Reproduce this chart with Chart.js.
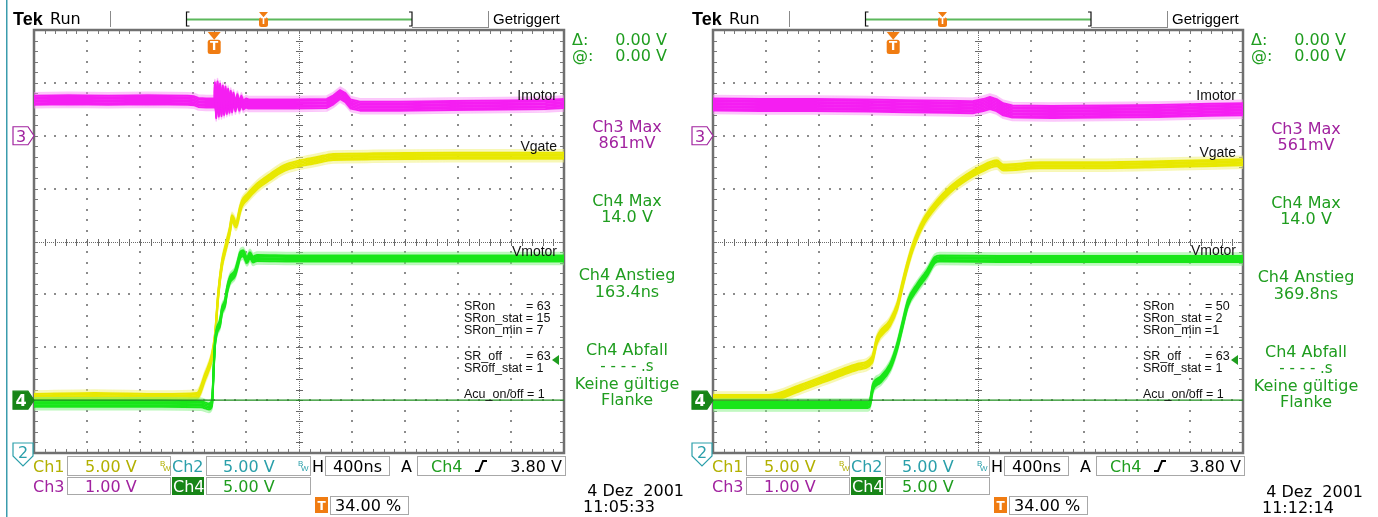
<!DOCTYPE html>
<html>
<head>
<meta charset="utf-8">
<title>Tek scope captures</title>
<script src="https://cdn.jsdelivr.net/npm/chart.js@4.4.1/dist/chart.umd.min.js"></script>
<style>
  html, body { margin: 0; padding: 0; background: #fff; }
  body { width: 1378px; height: 517px; position: relative; overflow: hidden; }
  canvas { position: absolute; top: 0; }
  #scopeLeft { left: 0; }
  #scopeRight { left: 679px; }
</style>
</head>
<body>
<canvas id="scopeLeft" width="699" height="517"></canvas>
<canvas id="scopeRight" width="699" height="517"></canvas>
<script>
// horizontal: 400 ns/div, 10 div, trigger at 34 % of the record
const timeMin = -1360;
const timeMax = 2640;
const trigTime = 0;
const trigPercent = 34;
const trigLevel = 3.8;          // Ch4, volts
const refT = [-1360, 2640];     // Ch4 ground reference line
const refV = [0, 0];

// channel settings shown in the bottom row
const chScales = ['5.00 V', '5.00 V', '1.00 V', '5.00 V'];
const horizScale = '400ns';
const trigText = ['Ch4', '3.80 V'];
const posText = '34.00 %';

// left capture, 11:05:33 (times in ns, Imotor in V on Ch3, the others in V on Ch1/Ch4)
const leftImotorT = [-1360, -1100, -800, -500, -200, -150, -120, -60, 0, 5, 15, 25, 35, 45, 55, 65, 75, 85, 95,
  105, 115, 125, 135, 145, 160, 175, 190, 205, 220, 240, 260, 400, 600, 850, 900, 950, 990, 1030, 1100,
  1400, 1800, 2200, 2500, 2640];
const leftImotorV = [0.67, 0.68, 0.67, 0.68, 0.67, 0.66, 0.63, 0.62, 0.62, 0.92, 0.42, 0.94, 0.45, 0.90, 0.46, 0.86, 0.48, 0.84, 0.50,
  0.80, 0.52, 0.76, 0.53, 0.73, 0.55, 0.70, 0.56, 0.67, 0.58, 0.62, 0.60, 0.60, 0.60, 0.61, 0.68, 0.78, 0.72, 0.60, 0.56,
  0.56, 0.57, 0.58, 0.59, 0.61];
const leftVgateT = [-1360, -900, -400, -130, -69, -17, 6, 29, 59, 82, 119, 134, 165, 195, 210, 248, 323, 421, 519, 648, 776, 897, 1200, 1800, 2640];
const leftVgateV = [0.3, 0.4, 0.3, 0.4, 2.2, 4.1, 6.0, 9.75, 12.9, 14.2, 16.1, 17.2, 16.6, 18.0, 18.6, 19.2, 20.2, 21.1, 21.9, 22.4, 22.7, 23.0, 23.05, 23.1, 23.1];
const leftVmotorT = [-1360, -900, -400, -100, -40, -17, -2, 6, 21, 44, 59, 82, 97, 119, 157, 180, 195, 217, 248, 270, 293, 323, 600, 1500, 2640];
const leftVmotorV = [-0.35, -0.35, -0.35, -0.4, -0.6, -0.3, 3.5, 5.4, 6.6, 7.3, 8.5, 9.2, 10.4, 11.4, 12.0, 13.0, 13.7, 13.9, 13.25, 13.7, 13.3, 13.45, 13.4, 13.4, 13.4];

// right capture, 11:12:14
const rightImotorT = [-1360, -1000, -600, -200, 100, 400, 600, 680, 730, 780, 830, 900, 1200, 1600, 2000, 2400, 2640];
const rightImotorV = [0.59, 0.58, 0.58, 0.57, 0.56, 0.55, 0.54, 0.58, 0.62, 0.58, 0.50, 0.46, 0.45, 0.46, 0.47, 0.49, 0.50];
const rightVgateT = [-1360, -937, -703, -401, -273, -160, -122, -24, 29, 66, 104, 149, 225, 330, 429, 557, 655, 783, 829, 1108, 1485, 2000, 2640];
const rightVgateV = [0.2, 0.2, 1.15, 2.57, 3.14, 3.8, 5.69, 7.3, 8.8, 10.7, 12.6, 14.5, 16.75, 18.6, 19.9, 21.1, 21.8, 22.4, 22.0, 22.2, 22.2, 22.3, 22.5];
const rightVmotorT = [-1360, -800, -400, -190, -175, -152, -100, -24, 29, 66, 112, 180, 255, 315, 353, 800, 1600, 2640];
const rightVmotorV = [-0.45, -0.45, -0.45, -0.45, -0.26, 1.25, 1.9, 3.14, 5.03, 6.9, 9.2, 10.7, 12.0, 13.25, 13.4, 13.35, 13.35, 13.35];

// measurement readouts
const leftReadouts = ['861mV', '14.0 V', '163.4ns'];
const rightReadouts = ['561mV', '14.0 V', '369.8ns'];
const leftSR = [['SRon', '= 63'], ['SRon_stat = 15'], ['SRon_min = 7'], ['SR_off', '= 63'], ['SRoff_stat = 1'], ['Acu_on/off = 1']];
const rightSR = [['SRon', '= 50'], ['SRon_stat = 2'], ['SRon_min =1'], ['SR_off', '= 63'], ['SRoff_stat = 1'], ['Acu_on/off = 1']];
const traceNames = ['Imotor', 'Vgate', 'Vmotor'];

const READ = '16px "DejaVu Sans"';
const SMALL = '12.5px "Liberation Sans", Arial';
const LABEL = '14px "Liberation Sans", Arial';
const GREEN_TXT = '#1f9d1f';
const PURPLE = '#a1229f';
const OLIVE = '#b2b000';
const TEAL = '#2a9faa';
const DKGREEN = '#178517';
const ORANGE = '#f07c12';

const panels = {
  scopeLeft: {
    readouts: leftReadouts, sr: leftSR, date: '4 Dez  2001', time: '11:05:33',
    labelY: [100, 151, 256], readDy: 0, edgeLine: true
  },
  scopeRight: {
    readouts: rightReadouts, sr: rightSR, date: '4 Dez  2001', time: '11:12:14',
    labelY: [100, 157, 255], readDy: 2, edgeLine: false
  }
};

function txt(ctx, s, x, y, font, color, align) {
  ctx.font = font;
  ctx.fillStyle = color;
  ctx.textAlign = align || 'left';
  ctx.textBaseline = 'alphabetic';
  ctx.fillText(s, x, y);
}

function drawGrid(ctx, a) {
  const dx = (a.right - a.left) / 10;
  const dy = (a.bottom - a.top) / 8;
  const X = Math.round(a.left + 5 * dx);
  const Y = Math.round(a.top + 4 * dy);
  ctx.save();
  ctx.fillStyle = '#8c8c8c';
  for (let i = 1; i < 10; i++) {
    if (i === 5) continue;
    const x = Math.round(a.left + i * dx);
    for (let j = 1; j < 40; j++) ctx.fillRect(x - 1, Math.round(a.top + j * dy / 5) - 1, 2, 2);
  }
  for (let k = 1; k < 8; k++) {
    if (k === 4) continue;
    const y = Math.round(a.top + k * dy);
    for (let j = 1; j < 50; j++) ctx.fillRect(Math.round(a.left + j * dx / 5) - 1, y - 1, 2, 2);
  }
  // centre cross
  ctx.fillStyle = '#6a6a6a';
  for (let y = a.top + 1; y < a.bottom; y += 2) ctx.fillRect(X, y, 1, 1);
  for (let x = a.left + 1; x < a.right; x += 2) ctx.fillRect(x, Y, 1, 1);
  for (let j = 1; j < 40; j++) ctx.fillRect(X - 3, Math.round(a.top + j * dy / 5), 7, 1);
  for (let j = 1; j < 50; j++) ctx.fillRect(Math.round(a.left + j * dx / 5), Y - 3, 1, 7);
  // border ticks
  ctx.fillStyle = '#7a7a7a';
  for (let j = 1; j < 50; j++) {
    const x = Math.round(a.left + j * dx / 5);
    ctx.fillRect(x, a.top, 1, 4);
    ctx.fillRect(x, a.bottom - 4, 1, 4);
  }
  for (let j = 1; j < 40; j++) {
    const y = Math.round(a.top + j * dy / 5);
    ctx.fillRect(a.left, y, 4, 1);
    ctx.fillRect(a.right - 4, y, 4, 1);
  }
  ctx.strokeStyle = '#707070';
  ctx.lineWidth = 2.5;
  ctx.strokeRect(a.left, a.top, a.right - a.left, a.bottom - a.top);
  ctx.restore();
}

function markerRight(ctx, tipX, y, num, color, filled) {
  ctx.beginPath();
  ctx.moveTo(tipX - 21, y - 9);
  ctx.lineTo(tipX - 6, y - 9);
  ctx.lineTo(tipX, y);
  ctx.lineTo(tipX - 6, y + 9);
  ctx.lineTo(tipX - 21, y + 9);
  ctx.closePath();
  ctx.fillStyle = filled ? color : '#fff';
  ctx.fill();
  ctx.strokeStyle = color;
  ctx.lineWidth = 1.2;
  ctx.stroke();
  txt(ctx, num, tipX - 13, y + 6, (filled ? 'bold ' : '') + READ, filled ? '#fff' : color, 'center');
}

function trigMarker(ctx, x, top, w, h, font) {
  ctx.fillStyle = ORANGE;
  ctx.beginPath();
  ctx.moveTo(x - w / 2, top);
  ctx.lineTo(x + w / 2, top);
  ctx.lineTo(x, top + h * 0.35);
  ctx.closePath();
  ctx.fill();
  ctx.beginPath();
  ctx.roundRect(x - w / 2, top + h * 0.35, w, h * 0.65, 2.5);
  ctx.fill();
  ctx.font = font;
  ctx.fillStyle = '#fff';
  ctx.textAlign = 'center';
  ctx.textBaseline = 'middle';
  ctx.fillText('T', x, top + h * 0.68);
}

function box(ctx, x0, x1, y, h) {
  ctx.strokeStyle = '#a8a8a8';
  ctx.lineWidth = 1;
  ctx.strokeRect(x0 + 0.5, y + 0.5, x1 - x0, h);
}

function bw(ctx, x, y, color) {
  txt(ctx, 'B', x, y - 4, '8px "Liberation Sans"', color);
  txt(ctx, 'W', x + 3, y + 1, '8px "Liberation Sans"', color);
}

const scopePlugin = {
  id: 'scope',
  beforeDatasetsDraw(chart) {
    drawGrid(chart.ctx, chart.chartArea);
  },
  // the noisy trace bands are stacks of thin copies shifted vertically
  beforeDatasetDraw(chart, args) {
    const shift = chart.data.datasets[args.index].yShift || 0;
    chart.ctx.save();
    chart.ctx.translate(0, shift);
  },
  afterDatasetDraw(chart) {
    chart.ctx.restore();
  },
  afterDatasetsDraw(chart) {
    const ctx = chart.ctx;
    const a = chart.chartArea;
    const p = panels[chart.canvas.id];
    const xs = chart.scales.x, ys = chart.scales.y, y3 = chart.scales.y3;
    ctx.save();
    traceNames.forEach((n, i) => txt(ctx, n, a.right - 7, p.labelY[i], LABEL, '#111', 'right'));
    const srY = [310, 322, 334, 360, 372, 398];
    p.sr.forEach((row, i) => {
      txt(ctx, row[0], a.left + 430, srY[i], SMALL, '#111');
      if (row[1]) txt(ctx, row[1], a.left + 492, srY[i], SMALL, '#111');
    });
    // trigger level arrow
    const ty = ys.getPixelForValue(trigLevel);
    ctx.fillStyle = GREEN_TXT;
    ctx.beginPath();
    ctx.moveTo(a.right - 12, ty);
    ctx.lineTo(a.right - 5, ty - 5);
    ctx.lineTo(a.right - 5, ty + 5);
    ctx.closePath();
    ctx.fill();
    // ground markers
    markerRight(ctx, a.left, y3.getPixelForValue(0), '3', PURPLE, false);
    markerRight(ctx, a.left, ys.getPixelForValue(0), '4', DKGREEN, true);
    trigMarker(ctx, xs.getPixelForValue(trigTime), a.top + 2, 13, 22, 'bold 12px "DejaVu Sans"');
    ctx.restore();
  },
  afterDraw(chart) {
    const ctx = chart.ctx;
    const a = chart.chartArea;
    const p = panels[chart.canvas.id];
    ctx.save();
    if (p.edgeLine) {
      ctx.fillStyle = '#3b9cad';
      ctx.fillRect(6, 0, 1.5, 517);
    }
    // ch2 marker, off screen below
    ctx.beginPath();
    ctx.moveTo(13, a.bottom - 10);
    ctx.lineTo(33, a.bottom - 10);
    ctx.lineTo(33, a.bottom + 3);
    ctx.lineTo(23, a.bottom + 13);
    ctx.lineTo(13, a.bottom + 3);
    ctx.closePath();
    ctx.fillStyle = '#fff';
    ctx.fill();
    ctx.strokeStyle = TEAL;
    ctx.lineWidth = 1.2;
    ctx.stroke();
    txt(ctx, '2', 23, a.bottom + 5, READ, TEAL, 'center');

    // top status bar
    txt(ctx, 'Tek', 13, 25, 'bold 18px "Liberation Sans"', '#000');
    txt(ctx, 'Run', 50, 24, READ, '#000');
    ctx.fillStyle = '#8a8a8a';
    ctx.fillRect(110, 11, 1, 16);
    ctx.fillRect(488, 11, 1, 17);
    ctx.fillRect(412, 27, 77, 1);
    ctx.fillStyle = '#5cb85c';
    ctx.fillRect(187, 18.5, 225, 2);
    ctx.strokeStyle = '#111';
    ctx.lineWidth = 1.2;
    ctx.beginPath();
    ctx.moveTo(189.5, 12); ctx.lineTo(186.5, 12); ctx.lineTo(186.5, 26); ctx.lineTo(189.5, 26);
    ctx.moveTo(409, 12); ctx.lineTo(412, 12); ctx.lineTo(412, 26); ctx.lineTo(409, 26);
    ctx.stroke();
    trigMarker(ctx, 187 + 225 * trigPercent / 100, 12, 9, 15, 'bold 8px "DejaVu Sans"');
    txt(ctx, 'Getriggert', 493, 24, '15px "Liberation Sans"', '#000');

    // right column readouts
    const cx = 627, d = p.readDy;
    txt(ctx, '\u0394:', 572, 45, READ, GREEN_TXT);
    txt(ctx, '0.00 V', 667, 45, READ, GREEN_TXT, 'right');
    txt(ctx, '@:', 572, 61, READ, GREEN_TXT);
    txt(ctx, '0.00 V', 667, 61, READ, GREEN_TXT, 'right');
    txt(ctx, 'Ch3 Max', cx, 132 + d, READ, PURPLE, 'center');
    txt(ctx, p.readouts[0], cx, 148 + d, READ, PURPLE, 'center');
    txt(ctx, 'Ch4 Max', cx, 206 + d, READ, GREEN_TXT, 'center');
    txt(ctx, p.readouts[1], cx, 222 + d, READ, GREEN_TXT, 'center');
    txt(ctx, 'Ch4 Anstieg', cx, 280 + d, READ, GREEN_TXT, 'center');
    txt(ctx, p.readouts[2], cx, 297 + d, READ, GREEN_TXT, 'center');
    txt(ctx, 'Ch4 Abfall', cx, 355 + d, READ, GREEN_TXT, 'center');
    txt(ctx, '- - - - .s', cx, 371 + d, '15px "DejaVu Sans"', GREEN_TXT, 'center');
    txt(ctx, 'Keine g\u00fcltige', cx, 389 + d, READ, GREEN_TXT, 'center');
    txt(ctx, 'Flanke', cx, 405 + d, READ, GREEN_TXT, 'center');

    // bottom settings rows
    box(ctx, 67, 170, 456, 19);
    box(ctx, 206, 310, 456, 19);
    box(ctx, 325, 389, 456, 19);
    box(ctx, 417, 565, 456, 19);
    box(ctx, 67, 170, 477, 17);
    box(ctx, 206, 310, 477, 17);
    box(ctx, 330, 408, 496, 18);
    txt(ctx, 'Ch1', 33, 472, READ, OLIVE);
    txt(ctx, chScales[0], 85, 472, READ, OLIVE);
    bw(ctx, 160, 470, OLIVE);
    txt(ctx, 'Ch2', 172, 472, READ, TEAL);
    txt(ctx, chScales[1], 223, 472, READ, TEAL);
    bw(ctx, 298, 470, TEAL);
    txt(ctx, 'H', 312, 472, READ, '#000');
    txt(ctx, horizScale, 333, 472, READ, '#000');
    txt(ctx, 'A', 401, 472, READ, '#000');
    txt(ctx, trigText[0], 431, 472, READ, GREEN_TXT);
    ctx.strokeStyle = '#000';
    ctx.lineWidth = 2;
    ctx.beginPath();
    ctx.moveTo(475, 471); ctx.lineTo(479, 471); ctx.lineTo(483, 461); ctx.lineTo(487, 461);
    ctx.stroke();
    txt(ctx, trigText[1], 562, 472, READ, '#000', 'right');
    txt(ctx, 'Ch3', 33, 492, READ, PURPLE);
    txt(ctx, chScales[2], 85, 492, READ, PURPLE);
    ctx.fillStyle = DKGREEN;
    ctx.fillRect(172, 477, 32, 18);
    txt(ctx, 'Ch4', 173, 492, READ, '#fff');
    txt(ctx, chScales[3], 223, 492, READ, GREEN_TXT);
    ctx.fillStyle = ORANGE;
    ctx.fillRect(315, 497, 13, 16);
    txt(ctx, 'T', 321.5, 510, 'bold 12px "DejaVu Sans"', '#fff', 'center');
    txt(ctx, posText, 335, 511, READ, '#000');
    txt(ctx, p.date, 684, 496 + d / 2, READ, '#000', 'right');
    txt(ctx, p.time, 583, 512 + d / 2, READ, '#000');
    ctx.restore();
  }
};

function ds(t, v, color, width, axis, smooth, shift) {
  return {
    data: t.map((x, i) => ({ x, y: v[i] })),
    borderColor: color,
    borderWidth: width,
    yAxisID: axis,
    cubicInterpolationMode: smooth ? 'monotone' : 'default',
    tension: 0,
    pointRadius: 0,
    fill: false,
    clip: 0,
    yShift: shift || 0
  };
}

// one noisy trace: a dense core band plus a pale fringe
function band(t, v, axis, core, fringe, half, smooth) {
  const sets = [];
  for (let s = -half; s <= half + 0.01; s += 1.5) sets.push(ds(t, v, core, 2, axis, smooth, s));
  [-half - 1.5, half + 1.5, -half - 3, half + 3].forEach((s) => sets.push(ds(t, v, fringe, 1.5, axis, smooth, s)));
  return sets;
}

// first dataset is painted last (on top)
function buildSets(imT, imV, vgT, vgV, vmT, vmV, imHalf) {
  return [
    ds(refT, refV, '#1f8f1f', 1.3, 'y', false),
    ...band(vmT, vmV, 'y', '#19e619', 'rgba(130,240,130,0.55)', 3, true),
    ...band(vgT, vgV, 'y', '#e8e800', 'rgba(240,240,120,0.55)', 3, true),
    ...band(imT, imV, 'y3', '#f51ef2', 'rgba(250,140,248,0.5)', imHalf, false)
  ];
}

function makeScope(id, datasets) {
  const canvas = document.getElementById(id);
  return new Chart(canvas, {
    type: 'line',
    data: { datasets },
    options: {
      responsive: false,
      animation: false,
      devicePixelRatio: 1,
      events: [],
      layout: { padding: { left: 34, top: 30, right: 135, bottom: 64 } },
      scales: {
        x: { type: 'linear', min: timeMin, max: timeMax, display: false },
        y: { min: -5, max: 35, display: false },
        y3: { min: -6, max: 2, display: false }
      },
      plugins: { legend: { display: false }, tooltip: { enabled: false } },
      elements: { line: { borderCapStyle: 'butt', borderJoinStyle: 'round' } }
    },
    plugins: [scopePlugin]
  });
}

makeScope('scopeLeft', buildSets(leftImotorT, leftImotorV, leftVgateT, leftVgateV, leftVmotorT, leftVmotorV, 4.5));
makeScope('scopeRight', buildSets(rightImotorT, rightImotorV, rightVgateT, rightVgateV, rightVmotorT, rightVmotorV, 6));
</script>
</body>
</html>
